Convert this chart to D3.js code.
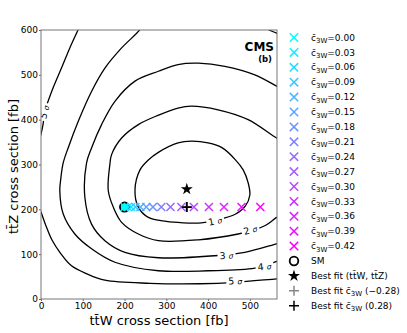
<!DOCTYPE html>
<html>
<head>
<meta charset="utf-8">
<style>
  body { margin: 0; background: #fff; }
  svg text { font-family: "DejaVu Sans", sans-serif; }
</style>
</head>
<body>
<div id="chart"></div>
<script src="https://cdn.jsdelivr.net/npm/d3@7"></script>
<script>
// c3W scan points (ttW, ttZ) in fb
const c3wValues = [0.00, 0.03, 0.06, 0.09, 0.12, 0.15, 0.18, 0.21, 0.24, 0.27, 0.30, 0.33, 0.36, 0.39, 0.42];
const scanTtW = [200, 208, 216, 226, 238, 252, 268, 288, 310, 336, 366, 402, 438, 480, 525];
const scanTtZ = [205, 205, 205, 205, 205, 205, 205, 205, 205, 205, 205, 205, 205, 205, 205];

const smPoint = [200, 205];
const bestFit = [349, 245];
const bestFitC3W = [349, 205];

const xTicks = [0, 100, 200, 300, 400, 500];
const yTicks = [0, 100, 200, 300, 400, 500, 600];

// contour lines, [ttW, ttZ]
const sigma1 = [[257,310],[281,327],[328,348],[360,352],[400,348],[434,337],[465,311],[484,288],[496,259],
  [500,232],[489,207],[465,189],[420,176],[384,170],[340,170],[300,173],[257,182],[233,205],[225,243],[237,288]];
const sigma2 = [[580,352],[564,359],[496,400],[424,422],[360,430],[328,426],[281,410],[233,389],[193,359],[169,322],
  [165,301],[161,242],[173,205],[193,171],[233,145],[281,130],[377,132],[472,145],[501,152],[537,164],[564,182],[580,190]];
const sigma3 = [[580,468],[564,475],[512,500],[440,519],[377,526],[328,523],[281,508],[225,486],[177,441],[145,389],
  [121,337],[109,303],[105,227],[121,167],[153,130],[201,104],[281,92],[424,97],[488,104],[564,123],[580,127]];
const sigma4a = [[245,615],[237,601],[193,560],[153,515],[121,463],[89,396],[65,337],[53,303],[47,265],[45,242],
  [53,190],[81,145],[121,112],[177,82],[281,63],[400,63],[512,69],[564,84],[580,89]];
const sigma4b = [[530,612],[544,601],[564,593],[580,585]];
const sigma5a = [[95,615],[89,601],[69,560],[49,515],[29,471],[17,441],[9,419],[5,390],[0,368],[-6,350]];
const sigma5b = [[-6,208],[0,194],[12,163],[26,132],[46,103],[73,74],[110,56],[153,42],[261,35],[381,34],[465,37],[564,45],[580,46]];

const contourLabels = [
  { lv: "1", at: [417, 174], rot: -12 },
  { lv: "2", at: [501, 154], rot: -15 },
  { lv: "3", at: [444, 97], rot: -4 },
  { lv: "4", at: [535, 72.5], rot: -6 },
  { lv: "5", at: [465, 40], rot: -1 },
  { lv: "5", at: [8.4, 417], rot: -75 }
];

const width = 407, height = 333;
const plot = { left: 41, right: 277, top: 30, bottom: 299 };

const svg = d3.select("#chart").append("svg")
  .attr("width", width).attr("height", height);

const x = d3.scaleLinear().domain([0, 565]).range([plot.left, plot.right]);
const y = d3.scaleLinear().domain([0, 600]).range([plot.bottom, plot.top]);
const color = d3.scaleLinear().domain([0, 0.42]).range(["#00ffff", "#ff00ff"]);

svg.append("clipPath").attr("id", "clip").append("rect")
  .attr("x", plot.left).attr("y", plot.top)
  .attr("width", plot.right - plot.left).attr("height", plot.bottom - plot.top);

const g = svg.append("g").attr("clip-path", "url(#clip)");

const line = d3.line().x(d => x(d[0])).y(d => y(d[1])).curve(d3.curveCatmullRom);
const closed = d3.line().x(d => x(d[0])).y(d => y(d[1])).curve(d3.curveCatmullRomClosed);

g.append("path").attr("d", closed(sigma1));
[sigma2, sigma3, sigma4a, sigma4b, sigma5a, sigma5b].forEach(c => g.append("path").attr("d", line(c)));
g.selectAll("path").attr("fill", "none").attr("stroke", "#000").attr("stroke-width", 1.3);

// contour labels, white box cut out of the line
contourLabels.forEach(l => {
  const lg = g.append("g")
    .attr("transform", `translate(${x(l.at[0])},${y(l.at[1])}) rotate(${l.rot})`);
  const bg = lg.append("rect").attr("fill", "#fff");
  const t = lg.append("text").attr("text-anchor", "middle").attr("dy", "0.35em")
    .attr("font-size", 9.5);
  t.append("tspan").text(l.lv + " ");
  t.append("tspan").attr("font-style", "italic").attr("font-size", 7.5).text("σ");
  const bb = t.node().getBBox();
  bg.attr("x", bb.x - 2).attr("y", bb.y + 1).attr("width", bb.width + 4).attr("height", bb.height - 2);
});

// markers
const crossPath = s => `M${-s},${-s}L${s},${s}M${-s},${s}L${s},${-s}`;
const plusPath = s => `M${-s},0L${s},0M0,${-s}L0,${s}`;
const star = d3.symbol().type(d3.symbolStar).size(45);

const scan = c3wValues.map((c, i) => ({ c, w: scanTtW[i], z: scanTtZ[i] }));

g.append("circle")
  .attr("cx", x(smPoint[0])).attr("cy", y(smPoint[1])).attr("r", 4.6)
  .attr("fill", color(0)).attr("stroke", "#000").attr("stroke-width", 1.8);

g.selectAll(".scan").data(scan).enter().append("path")
  .attr("class", "scan")
  .attr("transform", d => `translate(${x(d.w)},${y(d.z)})`)
  .attr("d", crossPath(4))
  .attr("fill", "none").attr("stroke", d => color(d.c)).attr("stroke-width", 1.5);

g.append("path").attr("transform", `translate(${x(bestFit[0])},${y(bestFit[1])})`)
  .attr("d", star()).attr("fill", "#000");
g.append("path").attr("transform", `translate(${x(bestFitC3W[0])},${y(bestFitC3W[1])})`)
  .attr("d", plusPath(5)).attr("stroke", "#888").attr("stroke-width", 1.8);
g.append("path").attr("transform", `translate(${x(bestFitC3W[0])},${y(bestFitC3W[1])})`)
  .attr("d", plusPath(5)).attr("stroke", "#000").attr("stroke-width", 1.8);

// axes
const xAxis = svg.append("g").attr("transform", `translate(0,${plot.bottom})`)
  .call(d3.axisBottom(x).tickValues(xTicks).tickSize(2).tickPadding(2));
const yAxis = svg.append("g").attr("transform", `translate(${plot.left},0)`)
  .call(d3.axisLeft(y).tickValues(yTicks).tickSize(2).tickPadding(1));
[xAxis, yAxis].forEach(a => {
  a.select(".domain").remove();
  a.selectAll("line").attr("stroke", "#666");
  a.selectAll("text").attr("font-size", 9).attr("fill", "#000")
    .attr("font-family", "DejaVu Sans, sans-serif");
});

svg.append("rect")
  .attr("x", plot.left).attr("y", plot.top)
  .attr("width", plot.right - plot.left).attr("height", plot.bottom - plot.top)
  .attr("fill", "none").attr("stroke", "#777").attr("stroke-width", 1);

svg.append("text").attr("x", (plot.left + plot.right) / 2).attr("y", 325)
  .attr("text-anchor", "middle").attr("font-size", 13).text("tt\u0304W cross section [fb]");
svg.append("text").attr("transform", `translate(17.5,${(plot.top + plot.bottom) / 2 + 2}) rotate(-90)`)
  .attr("text-anchor", "middle").attr("font-size", 13).text("tt\u0304Z cross section [fb]");

svg.append("text").attr("x", 274).attr("y", 51).attr("text-anchor", "end")
  .attr("font-size", 12).attr("font-weight", "bold").text("CMS");
svg.append("text").attr("x", 272).attr("y", 61.5).attr("text-anchor", "end")
  .attr("font-size", 8.5).attr("font-weight", "bold").text("(b)");

// legend
const legend = svg.append("g");
const rowY = i => 37.5 + i * 14.9;
const mx = 294, tx = 311;

const c3wLabel = (t, rest) => {
  t.append("tspan").text("c\u0304");
  t.append("tspan").attr("font-size", 7).attr("dy", 2.5).text("3W");
  t.append("tspan").attr("dy", -2.5).text(rest);
};

scan.forEach((d, i) => {
  legend.append("path").attr("transform", `translate(${mx},${rowY(i)})`)
    .attr("d", crossPath(4.2)).attr("fill", "none")
    .attr("stroke", color(d.c)).attr("stroke-width", 1.5);
  const t = legend.append("text").attr("x", tx).attr("y", rowY(i)).attr("dy", "0.35em").attr("font-size", 9);
  c3wLabel(t, "=" + d.c.toFixed(2));
});

let r = scan.length;
legend.append("circle").attr("cx", mx).attr("cy", rowY(r)).attr("r", 4.3)
  .attr("fill", "none").attr("stroke", "#000").attr("stroke-width", 1.8);
legend.append("text").attr("x", tx).attr("y", rowY(r)).attr("dy", "0.35em").attr("font-size", 9).text("SM");
r++;
legend.append("path").attr("transform", `translate(${mx},${rowY(r)})`).attr("d", star()).attr("fill", "#000");
legend.append("text").attr("x", tx).attr("y", rowY(r)).attr("dy", "0.35em").attr("font-size", 9)
  .text("Best fit (tt\u0304W, tt\u0304Z)");
r++;
legend.append("path").attr("transform", `translate(${mx},${rowY(r)})`).attr("d", plusPath(5))
  .attr("stroke", "#888").attr("stroke-width", 1.5);
c3wLabel(legend.append("text").attr("x", tx).attr("y", rowY(r)).attr("dy", "0.35em").attr("font-size", 9)
  .call(t => t.append("tspan").text("Best fit ")), " (\u22120.28)");
r++;
legend.append("path").attr("transform", `translate(${mx},${rowY(r)})`).attr("d", plusPath(5))
  .attr("stroke", "#000").attr("stroke-width", 1.5);
c3wLabel(legend.append("text").attr("x", tx).attr("y", rowY(r)).attr("dy", "0.35em").attr("font-size", 9)
  .call(t => t.append("tspan").text("Best fit ")), " (0.28)");
</script>
</body>
</html>
